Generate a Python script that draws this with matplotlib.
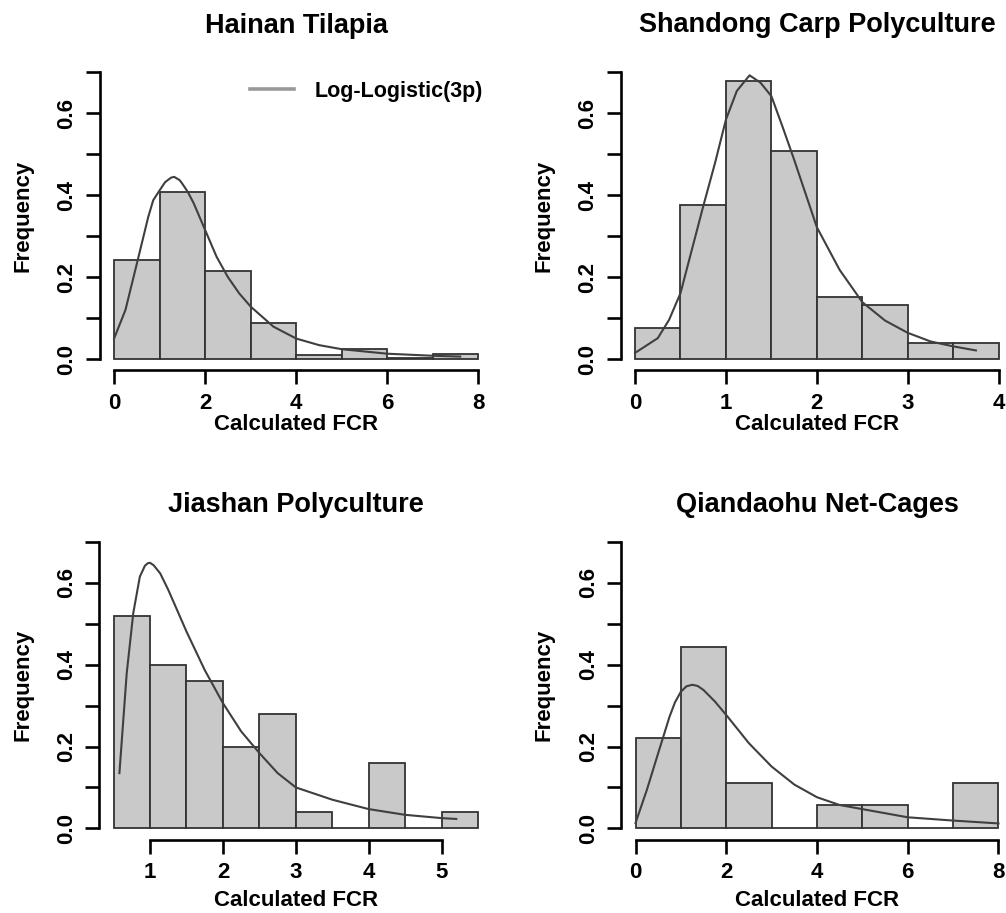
import matplotlib
matplotlib.use("Agg")
from matplotlib import pyplot as plt
from matplotlib.lines import Line2D
import numpy as np

plt.rcParams['font.family'] = ['Liberation Sans', 'DejaVu Sans']
plt.rcParams['font.weight'] = 'bold'

# --- data ---
titles = ["Hainan Tilapia", "Shandong Carp Polyculture",
          "Jiashan Polyculture", "Qiandaohu Net-Cages"]

hainan_edges = [0, 1, 2, 3, 4, 5, 6, 7, 8]
hainan_freq = [0.242, 0.409, 0.216, 0.087, 0.010, 0.024, 0.003, 0.013]
hainan_curve_x = [0, 0.25, 0.5, 0.75, 0.86, 1.0, 1.12, 1.25, 1.32, 1.44, 1.5,
                  1.62, 1.75, 2.0, 2.25, 2.5, 2.75, 3.0, 3.5, 4.0, 4.5, 5.0,
                  6.0, 7.0, 7.6]
hainan_curve_y = [0.050, 0.120, 0.233, 0.347, 0.388, 0.412, 0.432, 0.443,
                  0.445, 0.437, 0.428, 0.408, 0.380, 0.315, 0.250, 0.200,
                  0.160, 0.128, 0.079, 0.050, 0.034, 0.024, 0.013, 0.008,
                  0.006]

shandong_edges = [0, 0.5, 1.0, 1.5, 2.0, 2.5, 3.0, 3.5, 4.0]
shandong_freq = [0.076, 0.377, 0.679, 0.509, 0.151, 0.133, 0.039, 0.039]
shandong_curve_x = [0, 0.25, 0.375, 0.5, 0.75, 0.88, 1.0, 1.12, 1.26, 1.38,
                    1.5, 1.62, 1.75, 2.0, 2.25, 2.5, 2.75, 3.0, 3.25, 3.5,
                    3.75]
shandong_curve_y = [0.015, 0.051, 0.096, 0.161, 0.373, 0.479, 0.585, 0.655,
                    0.693, 0.675, 0.642, 0.569, 0.487, 0.322, 0.218, 0.139,
                    0.094, 0.064, 0.043, 0.031, 0.021]

jiashan_edges = [0.5, 1.0, 1.5, 2.0, 2.5, 3.0, 3.5, 4.0, 4.5, 5.0, 5.5]
jiashan_freq = [0.52, 0.40, 0.36, 0.20, 0.28, 0.04, 0.0, 0.16, 0.0, 0.04]
jiashan_curve_x = [0.58, 0.68, 0.77, 0.86, 0.93, 0.97, 1.0, 1.05, 1.14, 1.25,
                   1.5, 1.75, 2.0, 2.25, 2.5, 2.75, 3.0, 3.5, 4.0, 4.5, 5.0,
                   5.2]
jiashan_curve_y = [0.135, 0.379, 0.526, 0.615, 0.642, 0.648, 0.649, 0.643,
                   0.623, 0.583, 0.481, 0.387, 0.306, 0.237, 0.184, 0.135,
                   0.100, 0.070, 0.047, 0.033, 0.025, 0.023]

qdh_edges = [0, 1, 2, 3, 4, 5, 6, 7, 8]
qdh_freq = [0.222, 0.444, 0.111, 0.0, 0.056, 0.056, 0.0, 0.111]
qdh_curve_x = [0, 0.25, 0.5, 0.75, 0.87, 1.0, 1.12, 1.25, 1.37, 1.5, 1.75,
               2.0, 2.5, 3.0, 3.5, 4.0, 4.5, 5.0, 6.0, 7.0, 8.0]
qdh_curve_y = [0.013, 0.094, 0.184, 0.273, 0.308, 0.334, 0.347, 0.351, 0.348,
               0.338, 0.310, 0.277, 0.208, 0.151, 0.107, 0.076, 0.057, 0.047,
               0.027, 0.019, 0.012]

xticks_list = [[0, 2, 4, 6, 8], [0, 1, 2, 3, 4], [1, 2, 3, 4, 5], [0, 2, 4, 6, 8]]
ytick_vals = [0.0, 0.1, 0.2, 0.3, 0.4, 0.5, 0.6, 0.7]
ytick_labels = ['0.0', '', '0.2', '', '0.4', '', '0.6', '']
legend_label = "Log-Logistic(3p)"

# --- layout (pixels: left, top, right, bottom) ---
W, H = 1006, 913
boxes = [(99.5, 61, 493, 370.5), (620.5, 61, 1013.2, 370.5),
         (99, 530.5, 492.7, 839.8), (621, 530.5, 1013, 839.8)]
title_base = [33, 32.5, 512, 512]
xlabel_base = [430, 430, 906, 906]
ylabel_x = [23, 544.5, 23, 543.7]

bar_fill = '#c9c9c9'
bar_edge = '#333333'
curve_col = '#3f3f3f'

fig = plt.figure(figsize=(W / 100, H / 100), dpi=100)

panels = [
    (hainan_edges, hainan_freq, hainan_curve_x, hainan_curve_y),
    (shandong_edges, shandong_freq, shandong_curve_x, shandong_curve_y),
    (jiashan_edges, jiashan_freq, jiashan_curve_x, jiashan_curve_y),
    (qdh_edges, qdh_freq, qdh_curve_x, qdh_curve_y),
]

for i, (edges, freq, cx, cy) in enumerate(panels):
    left, top, right, bottom = boxes[i]
    ax = fig.add_axes([left / W, 1 - bottom / H, (right - left) / W, (bottom - top) / H])
    hpx = bottom - top
    wpx = right - left

    edges = np.array(edges)
    ax.bar(edges[:-1], freq, width=np.diff(edges), align='edge',
           color=bar_fill, edgecolor=bar_edge, linewidth=1.3)
    ax.plot(cx, cy, color=curve_col, lw=1.5, solid_joinstyle='round')

    # R-style 4% padding around the data range
    span = edges[-1] - edges[0]
    ax.set_xlim(edges[0] - 0.04 * span, edges[-1] + 0.04 * span)
    ax.set_ylim(-0.028, 0.728)

    for s in ['top', 'right']:
        ax.spines[s].set_visible(False)
    for s in ['left', 'bottom']:
        ax.spines[s].set_linewidth(1.9)
    ax.spines['left'].set_bounds(0, 0.7)
    xt = xticks_list[i]
    ax.spines['bottom'].set_bounds(xt[0], xt[-1])

    ax.set_xticks(xt)
    ax.set_xticklabels([str(v) for v in xt])
    ax.set_yticks(ytick_vals)
    ax.set_yticklabels(ytick_labels)
    ax.tick_params(length=10, width=1.9, labelsize=16, pad=6)
    for lab in ax.get_yticklabels():
        lab.set_rotation(90)
        lab.set_va('center')

    ax.text(0.5, (bottom - title_base[i]) / hpx, titles[i], transform=ax.transAxes,
            ha='center', va='baseline', fontsize=19.5, fontweight='bold')
    ax.set_xlabel("Calculated FCR", fontsize=16, fontweight='bold', va='baseline')
    ax.xaxis.set_label_coords(0.5, (bottom - xlabel_base[i]) / hpx)
    ax.set_ylabel("Frequency", fontsize=16, fontweight='bold', va='center')
    ax.yaxis.set_label_coords((ylabel_x[i] - left) / wpx, 0.5)

    if i == 0:
        h = Line2D([], [], color='#999999', lw=2.6)
        ax.legend([h], [legend_label], loc='center right',
                  bbox_to_anchor=((483 - left) / wpx, (bottom - 91) / hpx),
                  frameon=False, fontsize=15.5, borderpad=0, borderaxespad=0,
                  handlelength=2.05, handletextpad=0.95)

fig.savefig("out.png", dpi=100)
